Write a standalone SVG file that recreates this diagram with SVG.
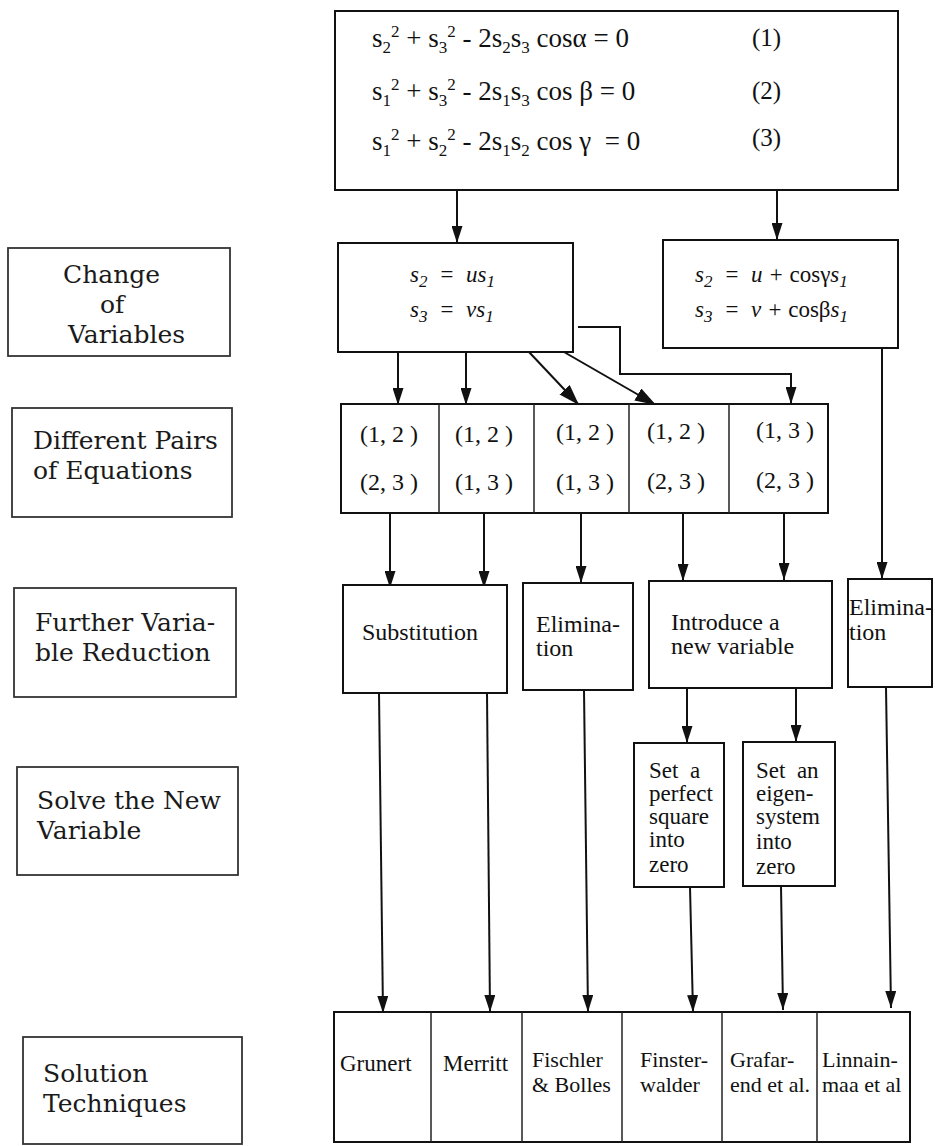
<svg xmlns="http://www.w3.org/2000/svg" width="935" height="1146" viewBox="0 0 935 1146">
<style>
.box{fill:#fff;stroke:#111;stroke-width:2}
.lbl{fill:#fff;stroke:#333;stroke-width:1.8}
.div{stroke:#222;stroke-width:1.5}
.con{fill:none;stroke:#111;stroke-width:2}
.ar{marker-end:url(#ah)}
.arb{marker-end:url(#ahb)}
.t{font-family:"Liberation Serif",serif;fill:#111}
.eq{font-size:27px}
.eqn{font-size:25px}
.m{font-size:23px;font-style:italic}
.n{font-size:24px}
.n2{font-size:23px}
.n3{font-size:22px}
.l{font-family:"DejaVu Serif",serif;font-size:25px;fill:#1a1a1a}
.s{font-size:17px}
</style>
<defs>
<marker id="ah" markerUnits="userSpaceOnUse" markerWidth="17" markerHeight="11" refX="17" refY="5.5" orient="auto"><path d="M0,0 L17,5.5 L0,11 z" fill="#111"/></marker>
<marker id="ahb" markerUnits="userSpaceOnUse" markerWidth="21" markerHeight="14" refX="21" refY="7" orient="auto"><path d="M0,0 L21,7 L0,14 z" fill="#111"/></marker>
</defs>

<g id="connectors">
<path class="con ar" d="M457,191 V243"/>
<path class="con ar" d="M777,189 V240"/>
<path class="con ar" d="M398,352 V405"/>
<path class="con ar" d="M466,352 V405"/>
<path class="con arb" d="M529,352 L579,405"/>
<path class="con arb" d="M564,352 L656,405"/>
<path class="con ar" d="M578,327 H620 V374 H791 V404"/>
<path class="con ar" d="M882,348 V579"/>
<path class="con ar" d="M390,513 V588"/>
<path class="con ar" d="M484,513 V588"/>
<path class="con ar" d="M581,513 V583"/>
<path class="con ar" d="M683,513 V581"/>
<path class="con ar" d="M784,513 V580"/>
<path class="con ar" d="M687,688 V743"/>
<path class="con ar" d="M796,688 V742"/>
<path class="con ar" d="M379,693 L383,1013"/>
<path class="con ar" d="M487,693 L490,1012"/>
<path class="con ar" d="M584,690 L588,1012"/>
<path class="con ar" d="M690,887 L693,1012"/>
<path class="con ar" d="M781,886 L783,1010"/>
<path class="con ar" d="M886,687 L891,1008"/>
</g>

<g id="equations">
<rect class="box" x="335" y="11" width="563" height="179"/>
<text class="t eq" x="372" y="47">s<tspan class="s" dy="6">2</tspan><tspan class="s" dy="-16">2</tspan><tspan dy="10"> + s</tspan><tspan class="s" dy="6">3</tspan><tspan class="s" dy="-16">2</tspan><tspan dy="10"> - 2s</tspan><tspan class="s" dy="6">2</tspan><tspan dy="-6">s</tspan><tspan class="s" dy="6">3</tspan><tspan dy="-6"> cosα = 0</tspan></text>
<text class="t eq" x="372" y="100">s<tspan class="s" dy="6">1</tspan><tspan class="s" dy="-16">2</tspan><tspan dy="10"> + s</tspan><tspan class="s" dy="6">3</tspan><tspan class="s" dy="-16">2</tspan><tspan dy="10"> - 2s</tspan><tspan class="s" dy="6">1</tspan><tspan dy="-6">s</tspan><tspan class="s" dy="6">3</tspan><tspan dy="-6"> cos β = 0</tspan></text>
<text class="t eq" x="372" y="150" xml:space="preserve">s<tspan class="s" dy="6">1</tspan><tspan class="s" dy="-16">2</tspan><tspan dy="10"> + s</tspan><tspan class="s" dy="6">2</tspan><tspan class="s" dy="-16">2</tspan><tspan dy="10"> - 2s</tspan><tspan class="s" dy="6">1</tspan><tspan dy="-6">s</tspan><tspan class="s" dy="6">2</tspan><tspan dy="-6"> cos γ  = 0</tspan></text>
<text class="t eqn" x="752" y="46">(1)</text>
<text class="t eqn" x="752" y="99">(2)</text>
<text class="t eqn" x="752" y="146">(3)</text>
</g>

<g id="change-left">
<rect class="box" x="338" y="243" width="235" height="109"/>
<text class="t m" x="410" y="282" xml:space="preserve">s<tspan class="s" dy="5">2</tspan><tspan dy="-5">  =  us</tspan><tspan class="s" dy="5">1</tspan></text>
<text class="t m" x="410" y="317" xml:space="preserve">s<tspan class="s" dy="5">3</tspan><tspan dy="-5">  =  vs</tspan><tspan class="s" dy="5">1</tspan></text>
</g>

<g id="change-right">
<rect class="box" x="663" y="240" width="235" height="108"/>
<text class="t m" x="695" y="282" xml:space="preserve">s<tspan class="s" dy="5">2</tspan><tspan dy="-5">  =  u + </tspan><tspan font-style="normal">cosγ</tspan>s<tspan class="s" dy="5">1</tspan></text>
<text class="t m" x="695" y="317" xml:space="preserve">s<tspan class="s" dy="5">3</tspan><tspan dy="-5">  =  v + </tspan><tspan font-style="normal">cosβ</tspan>s<tspan class="s" dy="5">1</tspan></text>
</g>

<g id="pairs">
<rect class="box" x="341" y="404" width="487" height="109"/>
<line class="div" x1="439" y1="404" x2="439" y2="513"/>
<line class="div" x1="534" y1="404" x2="534" y2="513"/>
<line class="div" x1="629" y1="404" x2="629" y2="513"/>
<line class="div" x1="729" y1="404" x2="729" y2="513"/>
<g class="t n" text-anchor="middle" xml:space="preserve">
<text x="389" y="442">(1, 2 )</text><text x="389" y="490">(2, 3 )</text>
<text x="484" y="442">(1, 2 )</text><text x="484" y="490">(1, 3 )</text>
<text x="585" y="440">(1, 2 )</text><text x="585" y="490">(1, 3 )</text>
<text x="676" y="439">(1, 2 )</text><text x="676" y="489">(2, 3 )</text>
<text x="785" y="438">(1, 3 )</text><text x="785" y="488">(2, 3 )</text>
</g>
</g>

<g id="substitution">
<rect class="box" x="343" y="585" width="164" height="108"/>
<text class="t n" x="362" y="640">Substitution</text>
</g>
<g id="elimination-1">
<rect class="box" x="523" y="583" width="110" height="107"/>
<text class="t n" x="536" y="632">Elimina-</text>
<text class="t n" x="536" y="656">tion</text>
</g>
<g id="introduce">
<rect class="box" x="649" y="581" width="183" height="107"/>
<text class="t n" x="671" y="630">Introduce a</text>
<text class="t n" x="671" y="654">new variable</text>
</g>
<g id="elimination-2">
<rect class="box" x="848" y="579" width="84" height="108"/>
<text class="t n" x="849" y="615">Elimina-</text>
<text class="t n" x="849" y="640">tion</text>
</g>

<g id="set-square">
<rect class="box" x="634" y="743" width="90" height="144"/>
<text class="t n2" x="649" y="778" xml:space="preserve">Set  a</text>
<text class="t n2" x="649" y="801">perfect</text>
<text class="t n2" x="649" y="824">square</text>
<text class="t n2" x="649" y="847">into</text>
<text class="t n2" x="649" y="872">zero</text>
</g>
<g id="set-eigen">
<rect class="box" x="743" y="742" width="92" height="144"/>
<text class="t n2" x="756" y="778" xml:space="preserve">Set  an</text>
<text class="t n2" x="756" y="801">eigen-</text>
<text class="t n2" x="756" y="824">system</text>
<text class="t n2" x="756" y="849">into</text>
<text class="t n2" x="756" y="874">zero</text>
</g>

<g id="solutions">
<rect class="box" x="334" y="1012" width="576" height="130"/>
<line class="div" x1="431" y1="1012" x2="431" y2="1142"/>
<line class="div" x1="522" y1="1012" x2="522" y2="1142"/>
<line class="div" x1="622" y1="1012" x2="622" y2="1142"/>
<line class="div" x1="722" y1="1012" x2="722" y2="1142"/>
<line class="div" x1="817" y1="1012" x2="817" y2="1142"/>
<text class="t n2" x="340" y="1071">Grunert</text>
<text class="t n2" x="443" y="1071">Merritt</text>
<text class="t n3" x="532" y="1067">Fischler</text>
<text class="t n3" x="532" y="1092">&amp; Bolles</text>
<text class="t n3" x="640" y="1067">Finster-</text>
<text class="t n3" x="640" y="1092">walder</text>
<text class="t n3" x="730" y="1067">Grafar-</text>
<text class="t n3" x="730" y="1092">end et al.</text>
<text class="t n3" x="822" y="1067">Linnain-</text>
<text class="t n3" x="822" y="1092">maa et al</text>
</g>

<g id="label-change">
<rect class="lbl" x="8" y="248" width="222" height="108"/>
<text class="t l" x="63" y="283">Change</text>
<text class="t l" x="100" y="313">of</text>
<text class="t l" x="68" y="343">Variables</text>
</g>
<g id="label-pairs">
<rect class="lbl" x="12" y="408" width="220" height="109"/>
<text class="t l" x="33" y="449">Different Pairs</text>
<text class="t l" x="33" y="479">of Equations</text>
</g>
<g id="label-reduction">
<rect class="lbl" x="14" y="588" width="222" height="109"/>
<text class="t l" x="35" y="631">Further Varia-</text>
<text class="t l" x="35" y="661">ble Reduction</text>
</g>
<g id="label-solve">
<rect class="lbl" x="17" y="767" width="221" height="108"/>
<text class="t l" x="37" y="809">Solve the New</text>
<text class="t l" x="37" y="839">Variable</text>
</g>
<g id="label-solution">
<rect class="lbl" x="23" y="1037" width="219" height="107"/>
<text class="t l" x="43" y="1082">Solution</text>
<text class="t l" x="43" y="1112">Techniques</text>
</g>
</svg>
